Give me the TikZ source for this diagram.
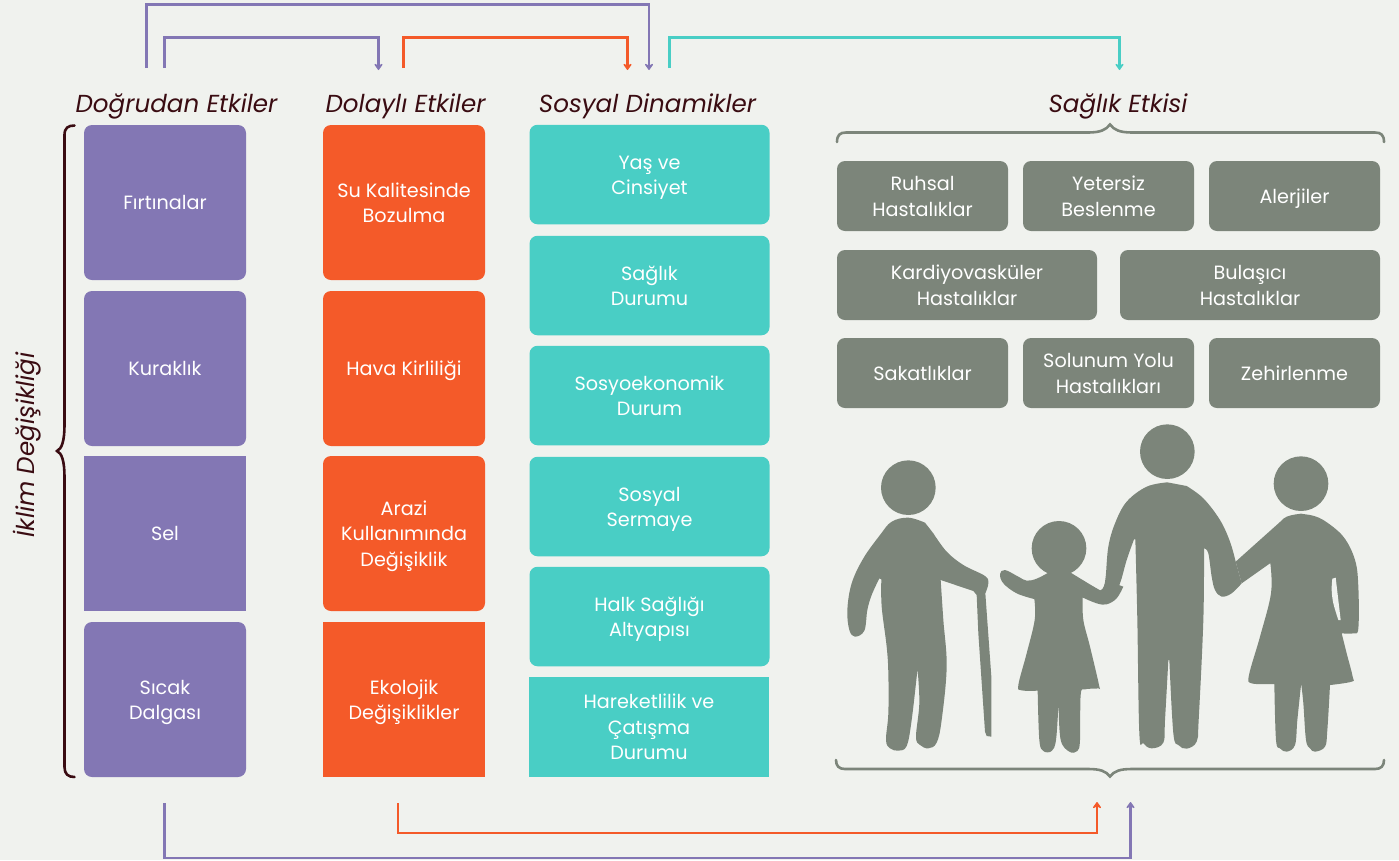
\documentclass[tikz,border=0pt]{standalone}
\usepackage{fontspec}
\setmainfont{Poppins}
\usetikzlibrary{arrows.meta}
\definecolor{bgc}{HTML}{F0F2EE}
\definecolor{pur}{HTML}{8377B4}
\definecolor{ora}{HTML}{F45A29}
\definecolor{tea}{HTML}{49CEC5}
\definecolor{gra}{HTML}{7C857A}
\definecolor{dar}{HTML}{3A0C12}
\newcommand{\blk}[1]{\raisebox{-7.4pt}[0pt][0pt]{\begin{tabular}{@{}c@{}}#1\end{tabular}}}
\tikzset{
  x=1pt,y=-1pt,
  boxbase/.style={inner sep=0pt,text=white,font=\fontsize{19.2}{25.5}\selectfont},
  rbox/.style={boxbase,rounded corners=8pt},
  sbox/.style={boxbase},
  purbox/.style={fill=pur,minimum width=162pt,minimum height=155pt},
  orabox/.style={fill=ora,minimum width=162pt,minimum height=155pt},
  teabox/.style={fill=tea,minimum width=240pt,minimum height=99.5pt},
  grabox/.style={rbox,fill=gra,minimum height=70pt},
  head/.style={text=dar,font=\fontsize{24.6}{28}\selectfont\itshape,inner sep=0pt,anchor=base},
  conn/.style={line width=2.6pt,miter limit=10},
  tip/.style={-{Stealth[inset=2.6pt,length=7.5pt,width=10.5pt,round]}},
  brc/.style={line width=2.6pt,line cap=round},
  person/.style={fill=gra,draw=none},
}
\begin{document}
\begin{tikzpicture}
\useasboundingbox (0,0) rectangle (1399,860);
\fill[bgc] (0,0) rectangle (1399,860);

% headers
\node[head] (hA) at (176.5,112.3) {Doğrudan Etkiler};
\node[head] (hB) at (405.5,112.3) {Dolaylı Etkiler};
\node[head] (hC) at (647.5,112.3) {Sosyal Dinamikler};
\node[head] (hD) at (1118,112.3) {Sağlık Etkisi};
\node[head,rotate=90] (hE) at (34,445) {İklim Değişikliği};

% purple column
\node[rbox,purbox] (p1) at (165,202.5) {\blk{Fırtınalar}};
\node[rbox,purbox] (p2) at (165,368.5) {\blk{Kuraklık}};
\node[sbox,purbox] (p3) at (165,533.5) {\blk{Sel}};
\node[rbox,purbox] (p4) at (165,699.5) {\blk{Sıcak\\Dalgası}};

% orange column
\node[rbox,orabox] (o1) at (404,202.5) {\blk{Su Kalitesinde\\Bozulma}};
\node[rbox,orabox] (o2) at (404,368.5) {\blk{Hava Kirliliği}};
\node[rbox,orabox] (o3) at (404,533.5) {\blk{Arazi\\Kullanımında\\Değişiklik}};
\node[sbox,orabox] (o4) at (404,699.5) {\blk{Ekolojik\\Değişiklikler}};

% teal column
\node[rbox,teabox] (t1) at (649.5,174.5) {\blk{Yaş ve\\Cinsiyet}};
\node[rbox,teabox] (t2) at (649.5,285.5) {\blk{Sağlık\\Durumu}};
\node[rbox,teabox] (t3) at (649.5,395.5) {\blk{Sosyoekonomik\\Durum}};
\node[rbox,teabox] (t4) at (649.5,506.5) {\blk{Sosyal\\Sermaye}};
\node[rbox,teabox] (t5) at (649.5,616.5) {\blk{Halk Sağlığı\\Altyapısı}};
\node[sbox,teabox] (t6) at (649,727) {\blk{Hareketlilik ve\\Çatışma\\Durumu}};

% gray boxes
\node[grabox,minimum width=171pt] (g1) at (922.5,196) {\blk{Ruhsal\\Hastalıklar}};
\node[grabox,minimum width=171pt] (g2) at (1108.5,196) {\blk{Yetersiz\\Beslenme}};
\node[grabox,minimum width=171pt] (g3) at (1294.5,196) {\blk{Alerjiler}};
\node[grabox,minimum width=260pt] (g4) at (967,285) {\blk{Kardiyovasküler\\Hastalıklar}};
\node[grabox,minimum width=260pt] (g5) at (1250,285) {\blk{Bulaşıcı\\Hastalıklar}};
\node[grabox,minimum width=171pt] (g6) at (922.5,373) {\blk{Sakatlıklar}};
\node[grabox,minimum width=171pt] (g7) at (1108.5,373) {\blk{Solunum Yolu\\Hastalıkları}};
\node[grabox,minimum width=171pt] (g8) at (1294.5,373) {\blk{Zehirlenme}};

% connector ends
\coordinate (a1) at (146.5,68);
\coordinate (a2) at (649,70);
\coordinate (b1) at (164.5,68);
\coordinate (b2) at (378.5,70);
\coordinate (c1) at (403.5,68);
\coordinate (c2) at (627.5,70);
\coordinate (d1) at (669.5,68);
\coordinate (d2) at (1119.5,70);
\coordinate (e1) at (398,803);
\coordinate (e2) at (1097,802);
\coordinate (f1) at (164.5,803);
\coordinate (f2) at (1130.5,802);

\draw[conn,tip,pur] (a1) -- (146.5,4.5) -- (649,4.5) -- (a2);
\draw[conn,tip,pur] (b1) -- (164.5,37.5) -- (378.5,37.5) -- (b2);
\draw[conn,tip,ora] (c1) -- (403.5,37.5) -- (627.5,37.5) -- (c2);
\draw[conn,tip,tea] (d1) -- (669.5,37.5) -- (1119.5,37.5) -- (d2);
\draw[conn,tip,ora] (e1) -- (398,833) -- (1097,833) -- (e2);
\draw[conn,tip,pur] (f1) -- (164.5,858) -- (1130.5,858) -- (f2);

% braces
\draw[brc,dar] (74.5,125.5) .. controls (68,125.5) and (64.5,128) .. (64.5,135)
  -- (64.5,425) .. controls (64.5,440) and (62,449) .. (57,451)
  .. controls (62,453) and (64.5,462) .. (64.5,477)
  -- (64.5,767) .. controls (64.5,774) and (68,777) .. (74.5,777);
\draw[brc,gra] (837,142) .. controls (837,135) and (840,132.5) .. (846,132.5)
  -- (1088,132.5) .. controls (1100,132.5) and (1106,130) .. (1110,124.5)
  .. controls (1114,130) and (1120,132.5) .. (1132,132.5)
  -- (1375,132.5) .. controls (1381,132.5) and (1384,135) .. (1384,142);
\draw[brc,gra] (836,760) .. controls (836,766) and (839,769) .. (845,769)
  -- (1088,769) .. controls (1100,769) and (1106,771) .. (1110,776.5)
  .. controls (1114,771) and (1120,769) .. (1132,769)
  -- (1375,769) .. controls (1381,769) and (1384,766) .. (1384,760);

% people, left pair (crop coordinates)
\begin{scope}[shift={(830,420)},scale=1/3]
  \fill[person] (235,203) circle[radius=82];
  \fill[person] plot[smooth,tension=.6] coordinates {(285,308)(235,293)(185,305)(150,345)(100,415)(65,490)(52,570)(58,630)(75,650)(103,632)(112,570)(125,525)(148,475)}
    -- plot[smooth,tension=.6] coordinates {(154,478)(155,560)(170,680)(175,760)(175,880)(168,960)(180,985)(205,992)(230,978)(245,900)(262,752)}
    -- plot[smooth,tension=.6] coordinates {(263,752)(268,850)(258,950)(270,975)(295,985)(320,968)(335,900)(350,740)(340,600)(332,480)}
    -- (430,513) -- (440,525) -- (445,640) -- (465,935) -- (470,948) -- (484,950) -- (484,770)
    -- plot[smooth,tension=.6] coordinates {(466,520)(475,490)(465,468)(400,435)(350,395)(310,340)} -- cycle;
  % child
  \fill[person] (687,385) circle[radius=82];
  \fill[person] plot[smooth,tension=.6] coordinates {(655,458)(620,476)(590,482)(565,470)(525,450)(510,462)(520,490)(560,520)(612,537)}
    -- plot[smooth,tension=.6] coordinates {(613,537)(614,600)(590,700)(565,795)(575,811)(622,812)}
    -- plot[smooth,tension=.6] coordinates {(623,812)(628,960)(640,993)(665,993)(678,960)(685,858)}
    -- plot[smooth,tension=.6] coordinates {(686,858)(692,960)(718,995)(742,993)(750,960)(752,825)(765,808)(805,805)(807,795)(780,680)(760,600)(758,533)}
    -- plot[smooth,tension=.6] coordinates {(759,533)(800,550)(830,553)(860,535)(880,500)}
    -- (826,480) -- plot[smooth,tension=.6] coordinates {(825,490)(815,510)(800,505)(722,458)} -- cycle;
\end{scope}
% people, right pair (crop coordinates)
\begin{scope}[shift={(1090,420)},scale=1/3]
  \fill[person] (232,95) circle[radius=82];
  \fill[person] plot[smooth,tension=.6] coordinates {(232,187)(170,200)(110,245)(75,310)(55,380)(47,470)(40,505)(25,512)}
    -- plot[smooth,tension=.6] coordinates {(40,553)(65,540)(90,490)(110,420)(132,358)}
    -- plot[smooth,tension=.6] coordinates {(136,358)(142,600)(148,940)(160,970)(185,985)(220,968)(225,900)(235,720)}
    -- plot[smooth,tension=.6] coordinates {(238,720)(250,940)(265,975)(290,986)(320,965)(326,900)(340,600)(342,385)}
    -- plot[smooth,tension=.6] coordinates {(343,385)(355,400)(365,470)(375,510)(395,530)(425,520)(455,490)}
    -- (437,425) -- plot[smooth,tension=.6] coordinates {(437,425)(420,365)(390,300)(340,235)(290,198)} -- cycle;
  % woman
  \fill[person] (633,191) circle[radius=82];
  \fill[person] plot[smooth,tension=.6] coordinates {(633,281)(590,290)(560,315)(437,425)}
    -- (455,490) -- (540,430)
    -- plot[smooth,tension=.6] coordinates {(541,430)(543,520)(510,650)(477,765)(485,790)(552,792)}
    -- plot[smooth,tension=.6] coordinates {(553,792)(558,960)(570,985)(590,995)(615,975)(622,900)(633,795)}
    -- plot[smooth,tension=.6] coordinates {(634,795)(640,850)(648,960)(660,985)(675,995)(705,980)(712,930)(720,795)}
    -- plot[smooth,tension=.6] coordinates {(721,795)(785,785)(788,770)(770,700)(755,640)}
    -- plot[smooth,tension=.6] coordinates {(756,640)(790,640)(805,625)(805,500)(795,420)(760,350)(700,300)(660,285)} -- cycle;
  \fill[bgc] plot[smooth,tension=.6] coordinates {(727,476)(725,510)(730,550)(745,600)} -- (752,600) -- (737,473) -- cycle;
\end{scope}
\end{tikzpicture}
\end{document}
